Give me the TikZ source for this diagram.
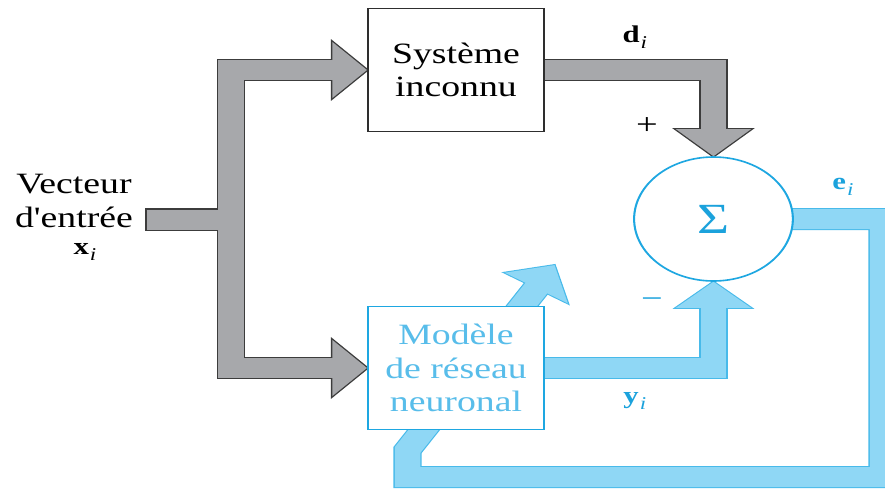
\documentclass[tikz,border=0pt]{standalone}
\usepackage{fontspec}
\setmainfont{Liberation Serif}[Ligatures=TeXOff]
\usetikzlibrary{calc}
\pgfdeclarelayer{bands}
\pgfsetlayers{bands,main}

\definecolor{bandgray}{HTML}{A7A8AB}
\definecolor{edgegray}{HTML}{3C3C3C}
\definecolor{boxgray}{HTML}{2E2E2E}
\definecolor{bandcyan}{HTML}{8FD7F5}
\definecolor{edgecyan}{HTML}{48BAEA}
\definecolor{strokecyan}{HTML}{1EA7E1}
\definecolor{textcyan}{HTML}{58BDEA}
\definecolor{labelcyan}{HTML}{1BA2DC}

% bold vector letter with an italic index
\newcommand{\vecidx}[2]{{\bfseries #1}\kern0.8pt\raisebox{-6pt}{\fontsize{18}{18}\selectfont\itshape #2}}

\tikzset{
  stretched/.style={transform canvas={xscale=1.28}},
  bigtext/.style={font=\fontsize{29.5}{33.5}\selectfont},
  labeltext/.style={font=\fontsize{24}{26}\selectfont, inner sep=0pt},
  signtext/.style={font=\fontsize{30}{30}\selectfont, inner sep=0pt},
  blockbox/.style={rectangle, minimum width=137.5pt, minimum height=123pt,
    fill=white, line width=1.6pt, align=center, bigtext, inner sep=0pt},
  sumnode/.style={circle, minimum size=124pt, fill=white, draw=strokecyan,
    line width=1.6pt, text=labelcyan, font=\fontsize{43}{43}\selectfont, inner sep=0pt},
  grayedge/.style={draw=edgegray, line width=22.4pt, line join=miter},
  grayband/.style={draw=bandgray, line width=20pt, line join=miter},
  cyanedge/.style={draw=edgecyan, line width=22pt, line join=miter},
  cyanband/.style={draw=bandcyan, line width=20pt, line join=miter},
  grayheadedge/.style={fill=edgegray, draw=edgegray, line width=2.4pt, line join=miter},
  grayhead/.style={fill=bandgray},
  cyanheadedge/.style={fill=edgecyan, draw=edgecyan, line width=2pt, line join=miter},
  cyanhead/.style={fill=bandcyan},
}

\begin{document}
\begin{tikzpicture}[x=1pt, y=-1pt]
\useasboundingbox (0,0) rectangle (885,488);

% blocks, summing junction and labels
\begin{scope}[stretched]
  \node[blockbox, draw=boxgray] (sys) at (356.25,70) {Système\\inconnu};
  \node[blockbox, draw=strokecyan, text=textcyan] (mod) at (356.25,368) {Modèle\\de réseau\\neuronal};
  \node[sumnode] (sig) at (557.4,219) {Σ};
  \node[bigtext, align=center, inner sep=0pt] (vin) at (57.8,201) {Vecteur\\d'entrée};
  \node[labeltext] (xi) at (66.4,252) {\vecidx{x}{i}};
  \node[labeltext] (di) at (496,37) {\vecidx{d}{i}};
  \node[signtext] (plus) at (505.5,126.5) {+};
  \node[signtext, text=labelcyan] (minus) at (509.4,303) {\char"2212};
  \node[labeltext, text=labelcyan] (ei) at (658.6,187) {\vecidx{e}{i}};
  \node[labeltext, text=labelcyan] (yi) at (496,401) {\vecidx{y}{i}};
  \coordinate (xin) at (113.3,219.5);
  \coordinate (split) at (180.5,219.5);
  \coordinate (fbcorner) at (689.5,477);
  \coordinate (fbbend) at (318.4,450);
  \coordinate (fbend) at (420.6,285.5);
  \coordinate (fbtip) at (433.2,265.1);
\end{scope}

% wide signal bands, drawn beneath the blocks
\begin{pgfonlayer}{bands}
\begin{scope}[stretched]
  % grey bands: outlines first, then the fill
  \draw[grayedge] (xin) -- (split);
  \draw[grayedge] ($(sys.west)+(-24,0)$) -| (split) |- ($(mod.west)+(-24,0)$);
  \draw[grayedge] (sys.center) -| ($(sig.north)+(0,-24)$);
  \filldraw[grayheadedge] ($(sys.west)+(-27,-28)$) -- (sys.west) -- ($(sys.west)+(-27,28)$) -- cycle;
  \filldraw[grayheadedge] ($(mod.west)+(-27,-28)$) -- (mod.west) -- ($(mod.west)+(-27,28)$) -- cycle;
  \filldraw[grayheadedge] ($(sig.north)+(-29.3,-27)$) -- (sig.north) -- ($(sig.north)+(29.3,-27)$) -- cycle;

  \draw[grayband] ($(xin)+(1.2,0)$) -- (split);
  \draw[grayband] ($(sys.west)+(-24,0)$) -| (split) |- ($(mod.west)+(-24,0)$);
  \draw[grayband] (sys.center) -| ($(sig.north)+(0,-24)$);
  \fill[grayhead] ($(sys.west)+(-27,-28)$) -- (sys.west) -- ($(sys.west)+(-27,28)$) -- cycle;
  \fill[grayhead] ($(mod.west)+(-27,-28)$) -- (mod.west) -- ($(mod.west)+(-27,28)$) -- cycle;
  \fill[grayhead] ($(sig.north)+(-29.3,-27)$) -- (sig.north) -- ($(sig.north)+(29.3,-27)$) -- cycle;

  % cyan bands: outlines first, then the fill
  \draw[cyanedge] (mod.center) -| ($(sig.south)+(0,24)$);
  \draw[cyanedge] (sig.center) -| (fbcorner) -| (fbbend) -- (fbend);
  \filldraw[cyanheadedge] ($(sig.south)+(-29.3,26)$) -- (sig.south) -- ($(sig.south)+(29.3,26)$) -- cycle;
  \filldraw[cyanheadedge] (394.4,272.7) -- (fbtip) -- (443.6,303.3) -- cycle;

  \draw[cyanband] (mod.center) -| ($(sig.south)+(0,24)$);
  \draw[cyanband] (sig.center) -| (fbcorner) -| (fbbend) -- (fbend);
  \fill[cyanhead] ($(sig.south)+(-29.3,26)$) -- (sig.south) -- ($(sig.south)+(29.3,26)$) -- cycle;
  \fill[cyanhead] (394.4,272.7) -- (fbtip) -- (443.6,303.3) -- cycle;
\end{scope}
\end{pgfonlayer}
\end{tikzpicture}
\end{document}
